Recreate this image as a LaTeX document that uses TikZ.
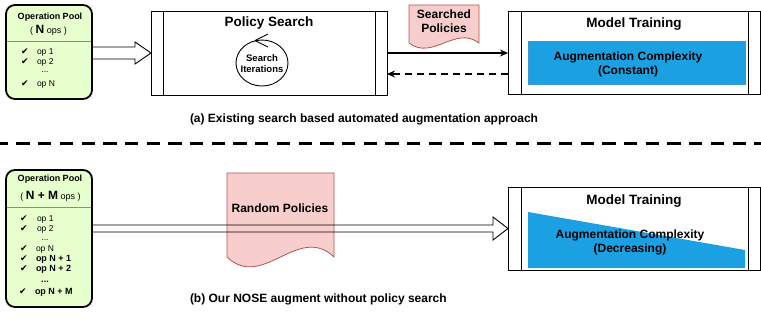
\documentclass[tikz,border=0pt]{standalone}
\usepackage{fontspec}
\setmainfont{Liberation Sans}
\newfontfamily\symfont{DejaVu Sans}
\usetikzlibrary{arrows.meta,calc,shapes.geometric}
\definecolor{poolgreen}{HTML}{E6FFCC}
\definecolor{docfill}{HTML}{F8CECC}
\definecolor{docline}{HTML}{B85450}
\definecolor{augblue}{HTML}{1BA1E2}
\definecolor{augline}{HTML}{3A9AD0}
\begin{document}
\begin{tikzpicture}[x=1pt,y=-1pt,
  every node/.style={inner sep=0pt, outer sep=0pt},
  pool/.style={draw, line width=1.8pt, rounded corners=9pt, fill=poolgreen},
  sepline/.style={draw=black!45, line width=0.8pt},
  procbox/.style={draw, line width=0.9pt},
  hollow/.style={draw, line width=0.9pt, line join=miter},
  conn/.style={line width=1.2pt, -{Stealth[length=8pt,width=7pt]}},
  docshape/.style={draw=docline, fill=docfill, line width=0.8pt},
  fbig/.style={font=\fontsize{13.5}{16}\selectfont\bfseries},
  fmid/.style={font=\fontsize{12}{14}\selectfont\bfseries, align=center},
  fsmall/.style={font=\fontsize{9}{11}\selectfont\bfseries},
  fsi/.style={font=\fontsize{9.5}{11}\selectfont\bfseries, align=center},
  fop/.style={font=\fontsize{8.5}{10}\selectfont, anchor=west},
  fopb/.style={font=\fontsize{9}{10}\selectfont\bfseries, anchor=west},
  dots/.style={font=\fontsize{8.5}{10}\selectfont},
  chk/.style={font=\symfont\fontsize{9}{10}\selectfont},
  captxt/.style={font=\fontsize{12}{14}\selectfont\bfseries, anchor=west}
]
\useasboundingbox (0,0) rectangle (761,325);

% ================= (a) =================
% Operation pool
\node[pool, minimum width=86pt, minimum height=94pt] (pool1) at (49,52) {};
\draw[sepline] (7,41) -- (91,41);
\node[fsmall] (pt1) at (50,17) {Operation Pool};
\node (pn1) at (48.5,30) {\fontsize{9}{11}\selectfont ( {\fontsize{12}{14}\selectfont\bfseries N} ops )};
\node[chk] (c11) at (25,52) {✔};
\node[fop] (o11) at (37,52) {op 1};
\node[chk] (c12) at (25,62) {✔};
\node[fop] (o12) at (37,62) {op 2};
\node[dots] (o13) at (45,72) {...};
\node[chk] (c14) at (25,84) {✔};
\node[fop] (o14) at (37,84) {op N};

% Policy search
\node[procbox, minimum width=236pt, minimum height=84pt] (ps) at (269,53) {};
\draw[procbox] ($(ps.north west)+(12,0)$) -- ($(ps.south west)+(12,0)$);
\draw[procbox] ($(ps.north east)+(-12,0)$) -- ($(ps.south east)+(-12,0)$);
\node[fbig] (pst) at (269,23) {Policy Search};
\node[ellipse, draw, line width=0.9pt, minimum width=52pt, minimum height=46pt] (si) at (262,63) {};
\node[fsi] (sit) at (262,63.5) {Search\\Iterations};
\draw[line width=0.9pt] ($(si.north)+(-7,0.5)$) -- ++(13,-6.5);
\draw[line width=0.9pt] ($(si.north)+(-7,0.5)$) -- ++(13,6.5);

% hollow arrow pool -> policy search
\draw[hollow] ($(pool1.east |- ps.west)+(0,-6)$) -- ($(ps.west)+(-16,-6)$) -- ($(ps.west)+(-16,-11)$)
  -- (ps.west) -- ($(ps.west)+(-16,11)$) -- ($(ps.west)+(-16,6)$) -- ($(pool1.east |- ps.west)+(0,6)$) -- cycle;

% Searched policies document
\draw[docshape] (409,5) -- (479,5) -- (479,43)
  .. controls (455.7,25) and (432.3,61) .. (409,43) -- cycle;
\node[fmid] (sp) at (444,21) {Searched\\Policies};

% Model training (a)
\node[procbox, minimum width=252pt, minimum height=83pt] (mt1) at (634,53) {};
\draw[procbox] ($(mt1.north west)+(13,0)$) -- ($(mt1.south west)+(13,0)$);
\draw[procbox] ($(mt1.north east)+(-12,0)$) -- ($(mt1.south east)+(-12,0)$);
\node[fbig] (mtt1) at (634,24) {Model Training};
\node[draw=augline, fill=augblue, line width=0.8pt, minimum width=217pt, minimum height=43pt] (aug1) at (636.5,62.5) {};
\node[fmid] (augt1) at (628,64) {Augmentation Complexity\\(Constant)};

% connectors
\draw[conn] (ps.east) -- (mt1.west);
\draw[conn, dash pattern=on 7pt off 5pt] ($(mt1.west)+(0,21)$) -- ($(ps.east)+(0,21)$);

\node[captxt] (capa) at (190,119) {(a) Existing search based automated augmentation approach};

% separator
\draw[line width=3pt, dash pattern=on 13.3pt off 8.4pt, dash phase=5.3pt] (0,143) -- (761,143);

% ================= (b) =================
\node[pool, minimum width=86pt, minimum height=137pt] (pool2) at (49,238.5) {};
\draw[sepline] (7,207) -- (91,207);
\node[fsmall] (pt2) at (50,179) {Operation Pool};
\node (pn2) at (50.5,196) {\fontsize{9}{11}\selectfont ( {\fontsize{12}{14}\selectfont\bfseries N + M} ops )};
\node[chk] (c21) at (24,219) {✔};
\node[fop] (o21) at (37,219) {op 1};
\node[chk] (c22) at (24,229) {✔};
\node[fop] (o22) at (37,229) {op 2};
\node[dots] (o23) at (45,240) {...};
\node[chk] (c24) at (24,249) {✔};
\node[fop] (o24) at (36,249) {op N};
\node[chk] (c25) at (24,259) {✔};
\node[fopb] (o25) at (36,259) {op N + 1};
\node[chk] (c26) at (24,269) {✔};
\node[fopb] (o26) at (36,269) {op N + 2};
\node[dots, font=\fontsize{9}{10}\selectfont\bfseries] (o27) at (45,281.5) {...};
\node[chk] (c28) at (23,292) {✔};
\node[fopb] (o28) at (35,292) {op N + M};

% Random policies document
\draw[docshape] (227,173) -- (334,173) -- (334,257)
  .. controls (298.3,223) and (262.7,291) .. (227,257) -- cycle;
\node[fmid] (rp) at (280,208) {Random Policies};

% Model training (b)
\node[procbox, minimum width=252pt, minimum height=83pt] (mt2) at (634,228.5) {};
\draw[procbox] ($(mt2.north west)+(13,0)$) -- ($(mt2.south west)+(13,0)$);
\draw[procbox] ($(mt2.north east)+(-12,0)$) -- ($(mt2.south east)+(-12,0)$);
\node[fbig] (mtt2) at (634,201) {Model Training};
\fill[augblue] (528,212) -- (745,250) -- (745,268) -- (528,268) -- cycle;
\node[fmid] (augt2) at (630,242.5) {Augmentation Complexity\\(Decreasing)};

% long hollow arrow pool -> model training
\draw[hollow] ($(pool2.east |- mt2.west)+(0,-3.5)$) -- ($(mt2.west)+(-15,-3.5)$) -- ($(mt2.west)+(-15,-11.5)$)
  -- (mt2.west) -- ($(mt2.west)+(-15,11.5)$) -- ($(mt2.west)+(-15,3.5)$) -- ($(pool2.east |- mt2.west)+(0,3.5)$) -- cycle;

\node[captxt] (capb) at (190,299) {(b) Our NOSE augment without policy search};
\end{tikzpicture}
\end{document}
